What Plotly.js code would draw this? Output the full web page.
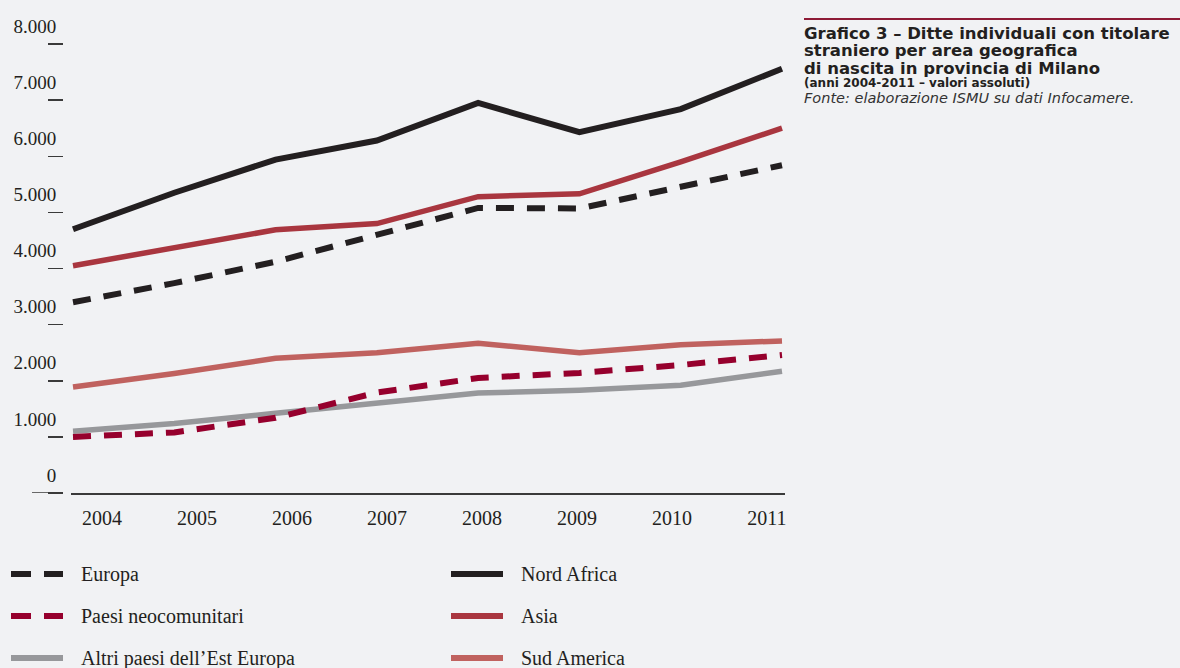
<!DOCTYPE html>
<html>
<head>
<meta charset="utf-8">
<script src="https://cdn.plot.ly/plotly-3.0.1.min.js"></script>
<style>
html,body{margin:0;padding:0;background:#f1f2f4;}
#chart{width:1180px;height:668px;}
</style>
</head>
<body>
<div id="chart"></div>
<script>
// ---- data ----
const years = [2004, 2005, 2006, 2007, 2008, 2009, 2010, 2011];
const europa      = [3400, 3740, 4120, 4590, 5080, 5070, 5450, 5840];
const paesiNeo    = [1000, 1080, 1340, 1790, 2050, 2140, 2280, 2460];
const altriEst    = [1100, 1240, 1420, 1600, 1780, 1830, 1920, 2170];
const nordAfrica  = [4700, 5350, 5940, 6280, 6950, 6430, 6840, 7560];
const asia        = [4050, 4370, 4690, 4800, 5280, 5330, 5900, 6500];
const sudAmerica  = [1890, 2130, 2400, 2500, 2670, 2500, 2640, 2710];
const yTickValues = [0, 1000, 2000, 3000, 4000, 5000, 6000, 7000, 8000];
const yearLabels  = ['2004','2005','2006','2007','2008','2009','2010','2011'];

const titleLines = [
  'Grafico 3 – Ditte individuali con titolare',
  'straniero per area geografica',
  'di nascita in provincia di Milano'
];
const subtitle = '(anni 2004-2011 – valori assoluti)';
const source = 'Fonte: elaborazione ISMU su dati Infocamere.';

// ---- styles ----
const W = 1180, H = 668;
const serif = 'Liberation Serif, Times New Roman, serif';
const sans = 'DejaVu Sans, Liberation Sans, Arial, sans-serif';
const ink = '#231f20';
const dashPat = '18px,13px';

const series = [
  {name: 'Altri paesi dell’Est Europa', y: altriEst,   color: '#97989b', width: 5.5, dash: 'solid', col: 0, row: 2},
  {name: 'Sud America',                 y: sudAmerica, color: '#c0625f', width: 5.5, dash: 'solid', col: 1, row: 2},
  {name: 'Paesi neocomunitari',         y: paesiNeo,   color: '#96002d', width: 6,   dash: dashPat, col: 0, row: 1},
  {name: 'Europa',                      y: europa,     color: ink,       width: 6,   dash: dashPat, col: 0, row: 0},
  {name: 'Asia',                        y: asia,       color: '#a9363f', width: 5.5, dash: 'solid', col: 1, row: 1},
  {name: 'Nord Africa',                 y: nordAfrica, color: ink,       width: 6,   dash: 'solid', col: 1, row: 0}
];

const traces = series.map(s => ({
  type: 'scatter', mode: 'lines', name: s.name,
  x: years, y: s.y,
  line: {color: s.color, width: s.width, dash: s.dash},
  hoverinfo: 'x+y+name', showlegend: false
}));

// plot geometry (pixels)
const plotL = 71, plotR = 785, plotT = 44, plotB = 493;
const pxPerYear = 101.3;
const xr = [years[0] - 2 / pxPerYear, years[years.length - 1] + 3 / pxPerYear];
// the original prints the year labels on a slightly narrower grid than the lines
const labelStart = 29 / pxPerYear, labelStep = 95 / pxPerYear;
const tickPos = years.map((y, i) => years[0] + labelStart + i * labelStep);

const shapes = [];
const annotations = [];

// long tick at zero
shapes.push({type: 'line', xref: 'paper', yref: 'y', x0: 32 / W, x1: 63 / W, y0: 0, y1: 0,
  line: {color: '#3a3a3a', width: 1.5}});

// title rule
shapes.push({type: 'line', xref: 'paper', yref: 'paper', x0: 804 / W, x1: 1, y0: 1 - 19 / H, y1: 1 - 19 / H,
  line: {color: '#8e1b36', width: 2}});

// title block
const titleY = [33, 51, 68];
titleLines.forEach((t, i) => annotations.push({
  xref: 'paper', yref: 'paper', x: 802 / W, y: 1 - titleY[i] / H, xanchor: 'left', yanchor: 'middle',
  text: '<b>' + t + '</b>', showarrow: false, font: {family: sans, size: 16.5, color: ink}
}));
annotations.push({xref: 'paper', yref: 'paper', x: 802 / W, y: 1 - 83 / H, xanchor: 'left', yanchor: 'middle',
  text: '<b>' + subtitle + '</b>', showarrow: false, font: {family: sans, size: 12, color: ink}});
annotations.push({xref: 'paper', yref: 'paper', x: 802 / W, y: 1 - 98.5 / H, xanchor: 'left', yanchor: 'middle',
  text: '<i>' + source + '</i>', showarrow: false, font: {family: sans, size: 14.5, color: '#333'}});

// custom legend (two columns, three rows)
const legColX = [11, 451], legSymW = 52, legTextGap = 16, legRowY = [574, 616, 658];
series.forEach(s => {
  const x0 = legColX[s.col], yy = 1 - legRowY[s.row] / H;
  shapes.push({type: 'line', xref: 'paper', yref: 'paper', x0: x0 / W, x1: (x0 + legSymW) / W, y0: yy, y1: yy,
    line: {color: s.color, width: 6, dash: s.dash === 'solid' ? 'solid' : '20px,13px'}});
  annotations.push({xref: 'paper', yref: 'paper', x: (x0 + legSymW + legTextGap) / W, y: yy,
    xanchor: 'left', yanchor: 'middle', text: s.name, showarrow: false,
    font: {family: serif, size: 20, color: ink}});
});

const layout = {
  width: W, height: H,
  margin: {l: 0, r: 0, t: 0, b: 0, pad: 0},
  paper_bgcolor: '#f1f2f4', plot_bgcolor: '#f1f2f4',
  separators: ',.',
  showlegend: false,
  font: {family: serif, color: ink},
  xaxis: {
    domain: [plotL / W, plotR / W], range: xr, anchor: 'y',
    showgrid: false, zeroline: false, showline: true, linecolor: '#3a3a3a', linewidth: 1.5,
    tickmode: 'array', tickvals: tickPos, ticktext: yearLabels,
    ticks: 'outside', ticklen: 6, tickcolor: 'rgba(0,0,0,0)',
    tickfont: {family: serif, size: 20, color: ink}, automargin: false, fixedrange: true
  },
  yaxis: {
    domain: [1 - plotB / H, 1 - plotT / H], range: [0, 8000],
    anchor: 'free', position: 63 / W, side: 'left',
    showgrid: false, zeroline: false, showline: false,
    tickmode: 'array', tickvals: yTickValues, tickformat: ',d',
    ticks: 'outside', ticklen: 15, tickwidth: 1.5, tickcolor: '#3a3a3a',
    ticklabelshift: -18, ticklabelstandoff: -12,
    tickfont: {family: serif, size: 19, color: ink}, automargin: false, fixedrange: true
  },
  shapes: shapes,
  annotations: annotations
};

Plotly.newPlot('chart', traces, layout, {displayModeBar: false, responsive: false, staticPlot: true});
</script>
</body>
</html>
